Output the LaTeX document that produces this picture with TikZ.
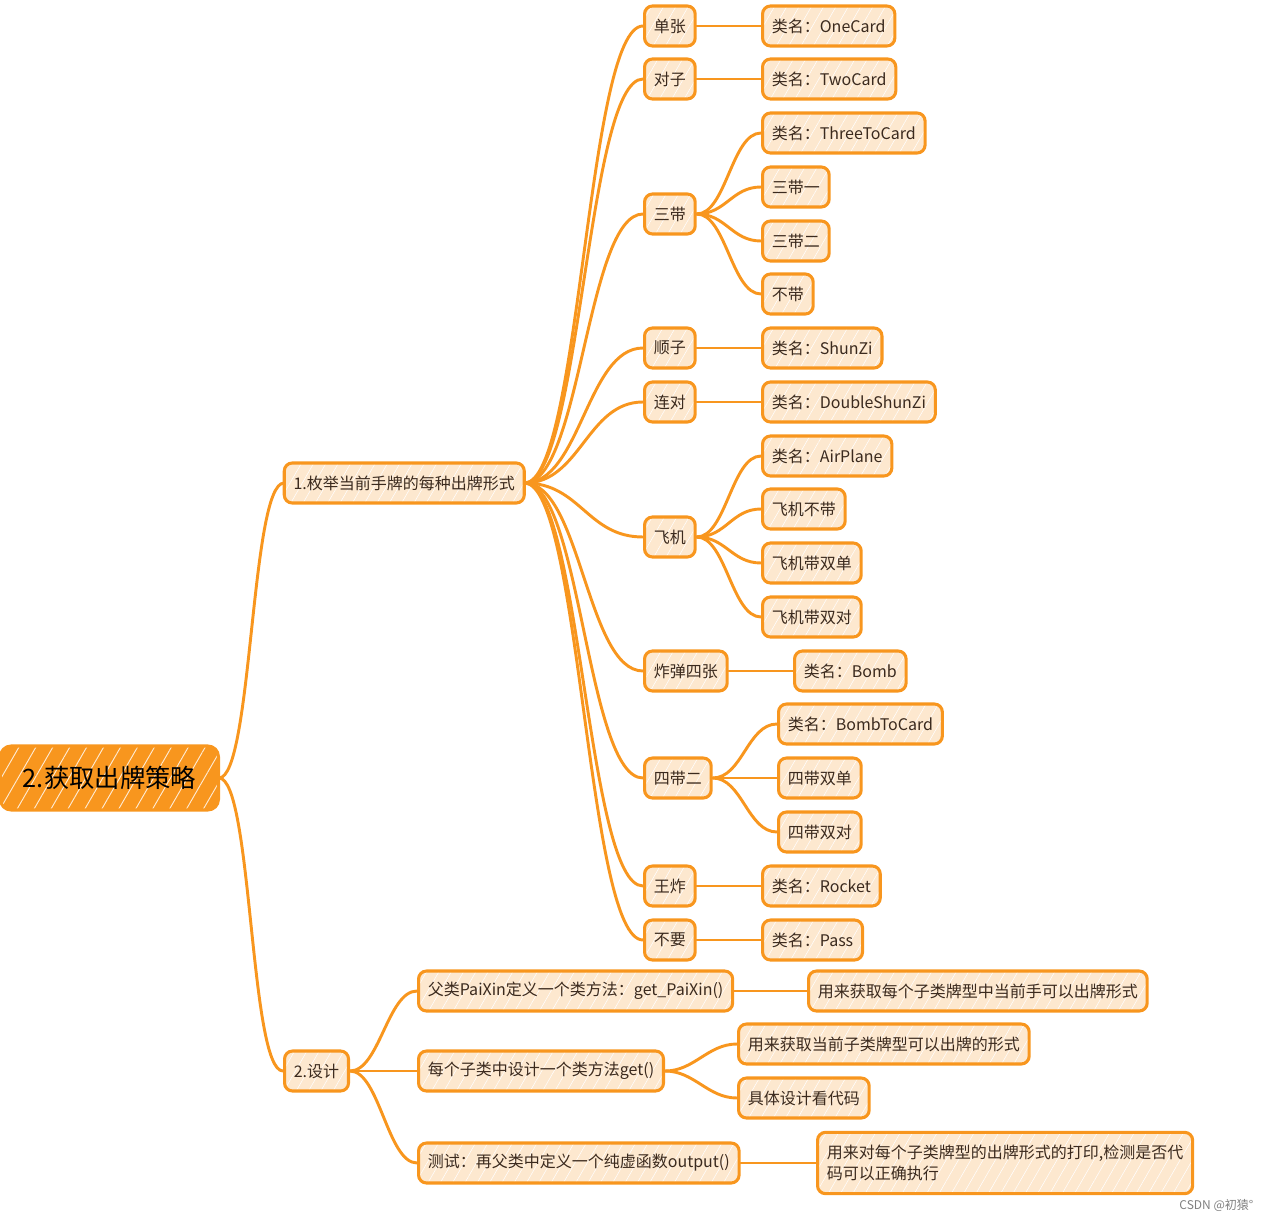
\documentclass[tikz,border=0pt]{standalone}
\usepackage{fontspec}
\newfontfamily\cjk{Noto Sans CJK SC}
\usetikzlibrary{patterns.meta}
\definecolor{orng}{HTML}{F8961E}
\definecolor{peach}{HTML}{FDE8CF}
\definecolor{txt}{HTML}{3B2A1E}
\begin{document}
\begin{tikzpicture}[x=0.75pt,y=-0.75pt,
 box/.style={draw=orng, line width=2.3pt, preaction={fill=peach},
   pattern={Lines[angle=60,distance=8pt,line width=0.4pt]}, pattern color=white,
   rounded corners=6pt, minimum height=30pt, inner xsep=7pt, inner ysep=3pt,
   font=\cjk\fontsize{12}{16}\selectfont, text=txt, anchor=west},
 rootbox/.style={draw=orng, line width=2.3pt, preaction={fill=orng},
   pattern={Lines[angle=60,distance=11pt,line width=0.7pt]}, pattern color=white!80!orng,
   rounded corners=8pt, minimum height=48pt, minimum width=163.5pt,
   font=\cjk\fontsize{19}{22}\selectfont, text=black, anchor=west},
 conn/.style={draw=orng, line width=2.2pt, line cap=round},
 cv/.style={out=0,in=180,out distance=#1,in distance=#1}]
\useasboundingbox (0,0) rectangle (1271,1220);

% root and first level
\node[rootbox] (r) at (0,778) {2.获取出牌策略};
\node[box] (l1a) at (284,483) {1.枚举当前手牌的每种出牌形式};
\node[box] (l1b) at (283,1071) {2.设计};

% second level
\node[box] (a1) at (643,26) {单张};
\node[box] (a2) at (643,79) {对子};
\node[box] (a3) at (643,214) {三带};
\node[box] (a4) at (643,348) {顺子};
\node[box] (a5) at (643,402) {连对};
\node[box] (a6) at (643,537) {飞机};
\node[box] (a7) at (643,671) {炸弹四张};
\node[box] (a8) at (643,778) {四带二};
\node[box] (a9) at (643,886) {王炸};
\node[box] (a10) at (643,940) {不要};

% third level
\node[box] (b1) at (761,26) {类名：OneCard};
\node[box] (b2) at (761,79) {类名：TwoCard};
\node[box] (b3) at (761,133) {类名：ThreeToCard};
\node[box] (b4) at (761,187) {三带一};
\node[box] (b5) at (761,241) {三带二};
\node[box] (b6) at (761,294) {不带};
\node[box] (b7) at (761,348) {类名：ShunZi};
\node[box] (b8) at (761,402) {类名：DoubleShunZi};
\node[box] (b9) at (761,456) {类名：AirPlane};
\node[box] (b10) at (761,509) {飞机不带};
\node[box] (b11) at (761,563) {飞机带双单};
\node[box] (b12) at (761,617) {飞机带双对};
\node[box] (b13) at (793,671) {类名：Bomb};
\node[box] (b14) at (777,724) {类名：BombToCard};
\node[box] (b15) at (777,778) {四带双单};
\node[box] (b16) at (777,832) {四带双对};
\node[box] (b17) at (761,886) {类名：Rocket};
\node[box] (b18) at (761,940) {类名：Pass};

% design branch
\node[box] (c1) at (417,991) {父类PaiXin定义一个类方法：get\_PaiXin()};
\node[box] (c2) at (417,1071) {每个子类中设计一个类方法get()};
\node[box] (c3) at (417,1163) {测试：再父类中定义一个纯虚函数output()};
\node[box] (d1) at (807,991) {用来获取每个子类牌型中当前手可以出牌形式};
\node[box] (d2) at (737,1044) {用来获取当前子类牌型可以出牌的形式};
\node[box] (d3) at (737,1098) {具体设计看代码};
\node[box, align=left, minimum height=46pt] (d4) at (816,1163)
  {用来对每个子类牌型的出牌形式的打印,检测是否代\\码可以正确执行};

\node[anchor=east, font=\cjk\fontsize{9}{10}\selectfont, text=gray] (wm) at (1258,1205) {CSDN @初猿°};

% connectors
\draw[conn] (r.east) to[cv=25pt] (l1a.west);
\draw[conn] (r.east) to[cv=25pt] (l1b.west);
\foreach \n in {a1,a2,a3,a4,a5,a6,a7,a8,a9,a10}
  \draw[conn] (l1a.east) to[cv=42pt] (\n.west);
\draw[conn] (a1.east) to[cv=24pt] (b1.west);
\draw[conn] (a2.east) to[cv=24pt] (b2.west);
\foreach \n in {b3,b4,b5,b6}
  \draw[conn] (a3.east) to[cv=22pt] (\n.west);
\draw[conn] (a4.east) to[cv=24pt] (b7.west);
\draw[conn] (a5.east) to[cv=24pt] (b8.west);
\foreach \n in {b9,b10,b11,b12}
  \draw[conn] (a6.east) to[cv=22pt] (\n.west);
\draw[conn] (a7.east) to[cv=24pt] (b13.west);
\foreach \n in {b14,b15,b16}
  \draw[conn] (a8.east) to[cv=22pt] (\n.west);
\draw[conn] (a9.east) to[cv=24pt] (b17.west);
\draw[conn] (a10.east) to[cv=24pt] (b18.west);
\foreach \n in {c1,c2,c3}
  \draw[conn] (l1b.east) to[cv=22pt] (\n.west);
\draw[conn] (c1.east) to[cv=24pt] (d1.west);
\draw[conn] (c2.east) to[cv=22pt] (d2.west);
\draw[conn] (c2.east) to[cv=22pt] (d3.west);
\draw[conn] (c3.east) to[cv=24pt] (d4.west);
\end{tikzpicture}
\end{document}
